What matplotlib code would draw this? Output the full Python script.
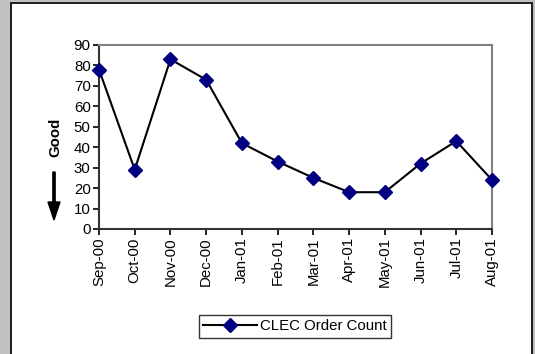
import matplotlib
matplotlib.use('Agg')
from matplotlib import pyplot as plt
from matplotlib.patches import Rectangle, FancyArrow

months = ['Sep-00', 'Oct-00', 'Nov-00', 'Dec-00', 'Jan-01', 'Feb-01',
          'Mar-01', 'Apr-01', 'May-01', 'Jun-01', 'Jul-01', 'Aug-01']
order_count = [78, 29, 83, 73, 42, 33, 25, 18, 18, 32, 43, 24]
y_ticks = [0, 10, 20, 30, 40, 50, 60, 70, 80, 90]

plt.rcParams['font.family'] = ['Liberation Sans', 'DejaVu Sans']
FS = 10.8

W, H = 535, 354
fig = plt.figure(figsize=(W / 100, H / 100), dpi=100)
fig.patch.set_facecolor('#c0c0c0')

def px(x, y, w, h):
    return (x / W, 1 - (y + h) / H, w / W, h / H)

# outer chart frame
fig.patches.append(Rectangle(px(10, 2, 523, 360)[:2], 523 / W, 360 / H,
                             transform=fig.transFigure, facecolor='#222222',
                             edgecolor='none', zorder=-2))
fig.patches.append(Rectangle(px(12, 4, 519, 360)[:2], 519 / W, 360 / H,
                             transform=fig.transFigure, facecolor='white',
                             edgecolor='none', zorder=-1))

ax = fig.add_axes(px(99, 45, 393, 184))
ax.set_zorder(2)
x = list(range(len(months)))
ax.plot(x, order_count, color='black', linewidth=1.5, marker='D',
        markersize=7, markerfacecolor='#000080', markeredgecolor='#000080',
        label='CLEC Order Count', clip_on=False, zorder=3)

ax.set_xlim(0, len(months) - 1)
ax.set_ylim(0, 90)
ax.set_yticks(y_ticks)
ax.set_xticks(x)
ax.set_xticklabels(months, rotation=90)
ax.tick_params(axis='both', direction='out', length=4, width=1.2,
               labelsize=FS, colors='black', pad=2)
for s in ['top', 'right']:
    ax.spines[s].set_color('#808080')
    ax.spines[s].set_linewidth(1.5)
for s in ['left', 'bottom']:
    ax.spines[s].set_color('#333333')
    ax.spines[s].set_linewidth(1.5)

fig.text(55 / W, 1 - 137 / H, 'Good', rotation=90, fontsize=FS,
         fontweight='bold', ha='center', va='center')
fig.patches.append(FancyArrow(54 / W, 1 - 172 / H, 0, -48 / H,
                              width=1.5 / H, head_width=12 / W,
                              head_length=18 / H, length_includes_head=True,
                              transform=fig.transFigure, color='black'))

leg = fig.legend(loc='center', bbox_to_anchor=(295 / W, 1 - 326 / H),
                 frameon=True, fancybox=False, fontsize=FS,
                 handlelength=3.6, borderpad=0.3, handletextpad=0.2)
leg.get_frame().set_edgecolor('black')
leg.get_frame().set_linewidth(1.0)

fig.savefig('out.png', dpi=100, facecolor=fig.get_facecolor())
